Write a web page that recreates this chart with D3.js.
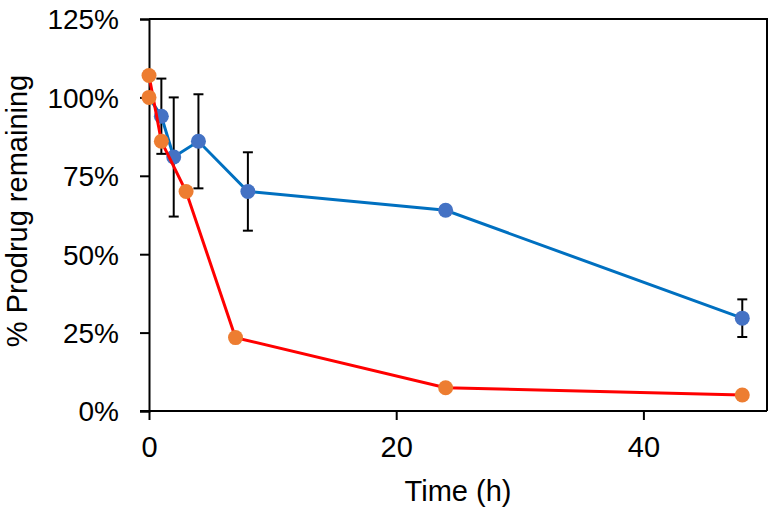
<!DOCTYPE html>
<html>
<head>
<meta charset="utf-8">
<script src="https://cdn.jsdelivr.net/npm/d3@7"></script>
<style>
  html, body { margin: 0; padding: 0; background: #fff; }
  svg { display: block; font-family: "Liberation Sans", Arial, sans-serif; }
</style>
</head>
<body>
<svg id="chart" width="772" height="512"></svg>
<script>
// ---- data ----
const timeBlue = [0, 1, 2, 4, 8, 24, 48];
const meanBlue = [100, 94, 81, 86, 70, 64, 29.6];
const errBlue  = [0, 12, 19, 15, 12.5, 1.3, 6];

const timeRed = [0, 1, 3, 7, 24, 48];
const meanRed = [107, 86, 70, 23.4, 7.4, 5.1];

const startTime = [0];
const startValue = [100];

const xTicks = [0, 20, 40];
const yTicks = [0, 25, 50, 75, 100, 125];
const xTitle = "Time (h)";
const yTitle = "% Prodrug remaining";

// ---- layout ----
const svg = d3.select("#chart");
const pLeft = 149, pRight = 767, pTop = 19, pBottom = 411;

const x = d3.scaleLinear().domain([0, 50]).range([pLeft, pRight]);
const y = d3.scaleLinear().domain([0, 125]).range([pBottom, pTop]);

// plot border (top & right)
svg.append("path")
  .attr("d", `M${pLeft},${pTop}H${pRight}V${pBottom}`)
  .attr("fill", "none").attr("stroke", "#000").attr("stroke-width", 2);

// axes
const yAxis = d3.axisLeft(y).tickValues(yTicks).tickSize(9).tickPadding(21)
  .tickFormat(d => d + "%");
const gy = svg.append("g").attr("transform", `translate(${pLeft},0)`).call(yAxis);
gy.select(".domain").attr("stroke-width", 2);
gy.selectAll(".tick line").attr("stroke-width", 2);
gy.selectAll(".tick text").attr("font-size", 28).attr("fill", "#000")
  .attr("font-family", "'Liberation Sans', Arial, sans-serif").attr("dy", "0.35em");

const xAxis = d3.axisBottom(x).tickValues(xTicks).tickSize(9).tickPadding(16);
const gx = svg.append("g").attr("transform", `translate(0,${pBottom})`).call(xAxis);
gx.select(".domain").attr("stroke-width", 2).attr("d", `M${pLeft - 9},0H${pRight}`);
gx.selectAll(".tick line").attr("stroke-width", 2);
gx.selectAll(".tick text").attr("font-size", 29).attr("fill", "#000")
  .attr("font-family", "'Liberation Sans', Arial, sans-serif");

// titles
svg.append("text").attr("x", (pLeft + pRight) / 2).attr("y", 501)
  .attr("text-anchor", "middle").attr("font-size", 29).text(xTitle);
svg.append("text").attr("transform", "translate(27,211) rotate(-90)")
  .attr("text-anchor", "middle").attr("font-size", 29).text(yTitle);

// ---- series ----
const blue = timeBlue.map((t, i) => ({ t, v: meanBlue[i], e: errBlue[i] }));
const red = timeRed.map((t, i) => ({ t, v: meanRed[i] }));

const eb = svg.append("g").attr("stroke", "#000").attr("stroke-width", 2);
blue.filter(d => d.e > 0).forEach(d => {
  const cx = x(d.t), y1 = y(d.v + d.e), y2 = y(d.v - d.e);
  eb.append("line").attr("x1", cx).attr("x2", cx).attr("y1", y1).attr("y2", y2);
  eb.append("line").attr("x1", cx - 5).attr("x2", cx + 5).attr("y1", y1).attr("y2", y1);
  eb.append("line").attr("x1", cx - 5).attr("x2", cx + 5).attr("y1", y2).attr("y2", y2);
});

const line = d3.line().x(d => x(d.t)).y(d => y(d.v));
svg.append("path").datum(blue).attr("d", line)
  .attr("fill", "none").attr("stroke", "#0070C0").attr("stroke-width", 3);
svg.append("g").selectAll("circle").data(blue.slice(1)).join("circle")
  .attr("cx", d => x(d.t)).attr("cy", d => y(d.v)).attr("r", 7.5).attr("fill", "#4472C4");

svg.append("path").datum(red).attr("d", line)
  .attr("fill", "none").attr("stroke", "#FF0000").attr("stroke-width", 3);
const orangePts = red.concat(startTime.map((t, i) => ({ t, v: startValue[i] })));
svg.append("g").selectAll("circle").data(orangePts).join("circle")
  .attr("cx", d => x(d.t)).attr("cy", d => y(d.v)).attr("r", 7.5).attr("fill", "#ED7D31");
</script>
</body>
</html>
